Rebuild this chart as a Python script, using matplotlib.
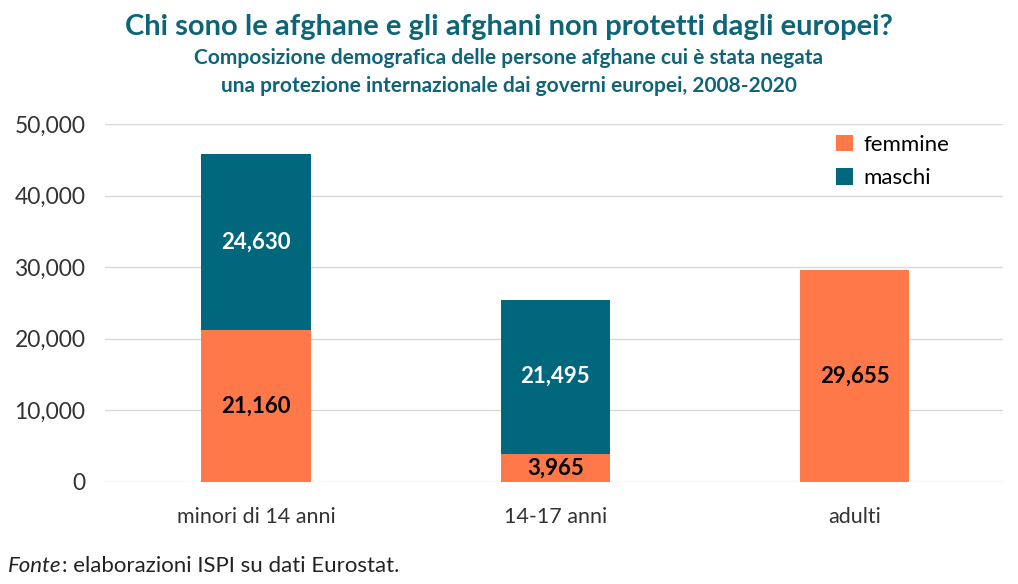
import matplotlib.pyplot as plt

plt.rcParams['font.family'] = ['Lato', 'DejaVu Sans']

categorie = ["minori di 14 anni", "14-17 anni", "adulti"]
femmine = [21160, 3965, 29655]
maschi = [24630, 21495, 0]

ARANCIO = "#FF7849"
TEAL = "#00677D"
TITOLO = "#0E6577"

fig = plt.figure(figsize=(10.18, 5.84), dpi=100)
ax = fig.add_axes([0.103, 0.1747, 0.882, 0.613])

x = list(range(len(categorie)))
larghezza = 0.365
ax.bar(x, femmine, width=larghezza, color=ARANCIO, label="femmine", zorder=2)
ax.bar(x, maschi, width=larghezza, bottom=femmine, color=TEAL, label="maschi", zorder=2)

# etichette dentro le barre
for i in x:
    if femmine[i] > 0:
        ax.text(i, femmine[i] / 2, f"{femmine[i]:,}", ha="center", va="center",
                fontsize=16, fontweight="bold", color="black")
    if maschi[i] > 0:
        ax.text(i, femmine[i] + maschi[i] / 2, f"{maschi[i]:,}", ha="center", va="center",
                fontsize=16, fontweight="bold", color="white")

ax.set_xlim(-0.505, 2.495)
ax.set_ylim(0, 50000)
ax.set_yticks(range(0, 50001, 10000))
ax.set_yticklabels([f"{v:,}" for v in range(0, 50001, 10000)])
ax.set_xticks(x)
ax.set_xticklabels(categorie)
ax.tick_params(axis="y", length=0, labelsize=16.5, colors="#333333", pad=14)
ax.tick_params(axis="x", length=0, labelsize=15.5, colors="#333333", pad=18)
ax.grid(axis="y", color="#D9D9D9", linewidth=1, zorder=0)
for s in ax.spines.values():
    s.set_visible(False)

ax.legend(loc="upper right", bbox_to_anchor=(0.963, 1.025), frameon=False, fontsize=16,
          handlelength=0.75, handleheight=0.75, handletextpad=0.5, labelspacing=0.6)

fig.text(0.5, 0.953, "Chi sono le afghane e gli afghani non protetti dagli europei?",
         ha="center", va="center", fontsize=21, fontweight="bold", color=TITOLO)
fig.text(0.5, 0.9, "Composizione demografica delle persone afghane cui è stata negata",
         ha="center", va="center", fontsize=15, fontweight="bold", color=TITOLO)
fig.text(0.5, 0.852, "una protezione internazionale dai governi europei, 2008-2020",
         ha="center", va="center", fontsize=15, fontweight="bold", color=TITOLO)

t = fig.text(0.008, 0.03, "Fonte", ha="left", va="center", fontsize=16, color="#222222", style="italic")
fig.canvas.draw()
bb = t.get_window_extent()
fig.text(bb.x1 / fig.bbox.width, 0.03, ": elaborazioni ISPI su dati Eurostat.",
         ha="left", va="center", fontsize=16, color="#222222")

fig.savefig("out.png", dpi=100)
